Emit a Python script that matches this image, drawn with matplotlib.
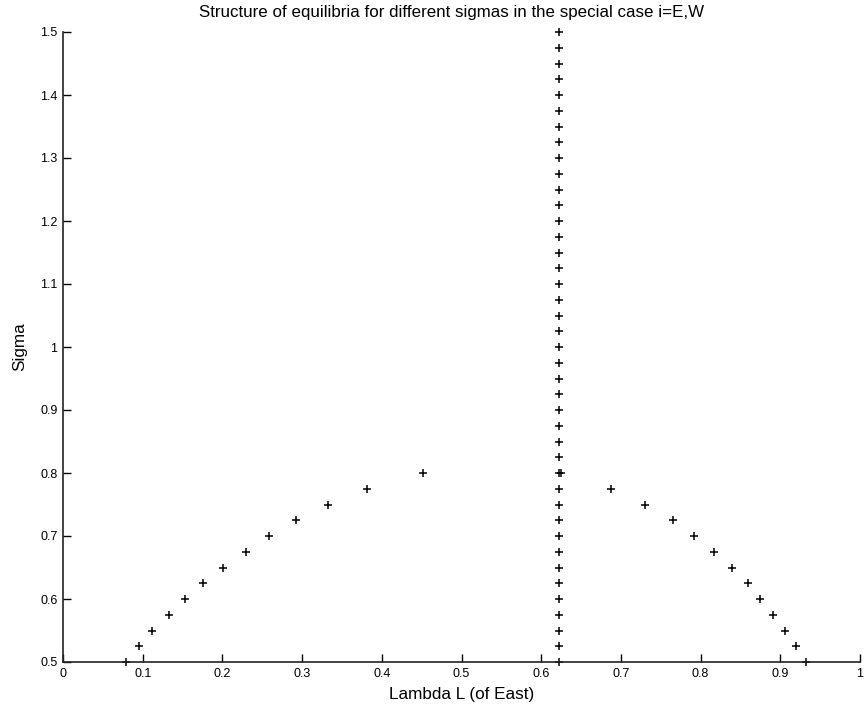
import matplotlib
matplotlib.use("Agg")
import matplotlib.pyplot as plt

plt.rcParams['font.family'] = ['Liberation Sans', 'DejaVu Sans']

# Vertical branch (symmetric equilibrium)
mid_lambda = [0.622] * 41
mid_sigma = [0.5, 0.525, 0.55, 0.575, 0.6, 0.625, 0.65, 0.675, 0.7, 0.725,
             0.75, 0.775, 0.8, 0.825, 0.85, 0.875, 0.9, 0.925, 0.95, 0.975,
             1.0, 1.025, 1.05, 1.075, 1.1, 1.125, 1.15, 1.175, 1.2, 1.225,
             1.25, 1.275, 1.3, 1.325, 1.35, 1.375, 1.4, 1.425, 1.45, 1.475, 1.5]

# Extra point at the bifurcation
bif_lambda = [0.625]
bif_sigma = [0.8]

# Left branch
left_lambda = [0.079, 0.095, 0.112, 0.133, 0.153, 0.176, 0.201, 0.229,
               0.259, 0.292, 0.333, 0.381, 0.452]
left_sigma = [0.5, 0.525, 0.55, 0.575, 0.6, 0.625, 0.65, 0.675,
              0.7, 0.725, 0.75, 0.775, 0.8]

# Right branch
right_lambda = [0.932, 0.920, 0.906, 0.891, 0.875, 0.859, 0.839, 0.817,
                0.792, 0.765, 0.730, 0.688]
right_sigma = [0.5, 0.525, 0.55, 0.575, 0.6, 0.625, 0.65, 0.675,
               0.7, 0.725, 0.75, 0.775]

xticks = [0, 0.1, 0.2, 0.3, 0.4, 0.5, 0.6, 0.7, 0.8, 0.9, 1]
xticklabels = ['0', '0.1', '0.2', '0.3', '0.4', '0.5', '0.6', '0.7', '0.8', '0.9', '1']
yticks = [0.5, 0.6, 0.7, 0.8, 0.9, 1.0, 1.1, 1.2, 1.3, 1.4, 1.5]
yticklabels = ['0.5', '0.6', '0.7', '0.8', '0.9', '1', '1.1', '1.2', '1.3', '1.4', '1.5']

fig = plt.figure(figsize=(8.65, 7.10), dpi=100)
ax = fig.add_axes([63/865, 48/710, 797/865, 630/710])

mk = dict(marker='+', linestyle='none', color='black', markersize=6, markeredgewidth=1.1,
          clip_on=False)
ax.plot(mid_lambda, mid_sigma, **mk)
ax.plot(bif_lambda, bif_sigma, **mk)
ax.plot(left_lambda, left_sigma, **mk)
ax.plot(right_lambda, right_sigma, **mk)

ax.set_xlim(0, 1)
ax.set_ylim(0.5, 1.5)
ax.set_xticks(xticks)
ax.set_xticklabels(xticklabels)
ax.set_yticks(yticks)
ax.set_yticklabels(yticklabels)
ax.tick_params(direction='in', length=6, width=1, labelsize=9, pad=4, colors='black')
ax.spines['top'].set_visible(False)
ax.spines['right'].set_visible(False)
for s in ['left', 'bottom']:
    ax.spines[s].set_linewidth(1.2)
    ax.spines[s].set_color('#222222')

ax.set_xlabel('Lambda L (of East)', fontsize=12.3, labelpad=5)
ax.set_ylabel('Sigma', fontsize=12.3, labelpad=9)
fig.text(452/865, 1 - 13/710,
         'Structure of equilibria for different sigmas in the special case i=E,W',
         fontsize=12.2, ha='center', va='center')

fig.savefig('out.png', dpi=100, facecolor='white')
